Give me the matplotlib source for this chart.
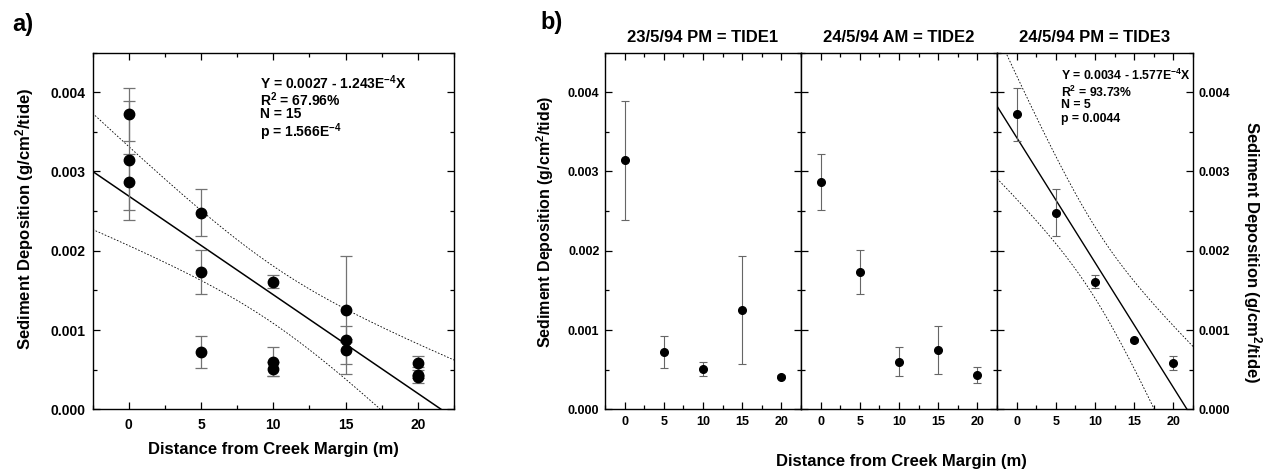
import numpy as np
import matplotlib
matplotlib.use("Agg")
import matplotlib.pyplot as plt
from matplotlib.ticker import MultipleLocator

plt.rcParams["font.family"] = ["Liberation Sans", "DejaVu Sans"]
plt.rcParams["font.weight"] = "bold"
plt.rcParams["mathtext.fontset"] = "custom"
plt.rcParams["mathtext.rm"] = "Liberation Sans:bold"
plt.rcParams["mathtext.bf"] = "Liberation Sans:bold"
plt.rcParams["mathtext.it"] = "Liberation Sans:italic:bold"

# distance from creek margin (m)
distance = [0, 5, 10, 15, 20]

# sediment deposition per tide (g/cm2/tide), mean and error
tide1 = [0.00314, 0.00072, 0.00051, 0.00125, 0.00041]
tide1_err = [0.00075, 0.00020, 0.00009, 0.00068, 0.00002]
tide2 = [0.00287, 0.00173, 0.00060, 0.00075, 0.00043]
tide2_err = [0.00035, 0.00028, 0.00018, 0.00030, 0.00010]
tide3 = [0.00372, 0.00248, 0.00161, 0.00087, 0.00058]
tide3_err = [0.00033, 0.00030, 0.00008, 0.00002, 0.00009]

tide_titles = ["23/5/94 PM = TIDE1", "24/5/94 AM = TIDE2", "24/5/94 PM = TIDE3"]

# t quantiles (two sided 95%) for the confidence bands
T_ALL = 2.160   # df = 13
T_TIDE3 = 3.182  # df = 3

YLABEL = "Sediment Deposition (g/cm$^{2}$/tide)"
XLABEL = "Distance from Creek Margin (m)"


def fit_with_band(x, y, t):
    x = np.asarray(x, float)
    y = np.asarray(y, float)
    slope, icpt = np.polyfit(x, y, 1)
    resid = y - (icpt + slope * x)
    s = np.sqrt(np.sum(resid ** 2) / (len(x) - 2))
    sxx = np.sum((x - x.mean()) ** 2)
    xs = np.linspace(-2.5, 22.5, 200)
    yfit = icpt + slope * xs
    half = t * s * np.sqrt(1.0 / len(x) + (xs - x.mean()) ** 2 / sxx)
    return xs, yfit, yfit - half, yfit + half


def style_axis(ax, size):
    ax.set_xlim(-2.5, 22.5)
    ax.set_ylim(0, 0.0045)
    ax.xaxis.set_major_locator(MultipleLocator(5))
    ax.xaxis.set_minor_locator(MultipleLocator(2.5))
    ax.yaxis.set_major_locator(MultipleLocator(0.001))
    ax.yaxis.set_minor_locator(MultipleLocator(0.0005))
    ax.tick_params(which="both", direction="in", top=True, right=True,
                   width=0.9, labelsize=size)
    ax.tick_params(which="major", length=5)
    ax.tick_params(which="minor", length=3)
    ax.yaxis.set_major_formatter(lambda v, p: f"{v:.3f}")
    for sp in ax.spines.values():
        sp.set_linewidth(1.0)


fig = plt.figure(figsize=(12.66, 4.71), dpi=100)

# ---- panel a: all tides pooled
axa = fig.add_axes([0.0731, 0.131, 0.2856, 0.7575])
style_axis(axa, 10)
axa.tick_params(axis="x", pad=6)
axa.tick_params(axis="y", pad=5)

all_x = distance * 3
all_y = tide1 + tide2 + tide3
all_err = tide1_err + tide2_err + tide3_err
axa.errorbar(all_x, all_y, yerr=all_err, fmt="o", color="black", ms=7.5,
             ecolor="0.45", elinewidth=0.9, capsize=4, capthick=0.9, zorder=3)
xs, yfit, lo, hi = fit_with_band(all_x, all_y, T_ALL)
axa.plot(xs, yfit, color="black", lw=1.1)
axa.plot(xs, lo, color="black", lw=0.6, ls=(0, (2, 2)))
axa.plot(xs, hi, color="black", lw=0.6, ls=(0, (2, 2)))

stats_a = ["Y = 0.0027 - 1.243E$^{-4}$X", "R$^{2}$ = 67.96%", "N = 15",
           "p = 1.566E$^{-4}$"]
for txt, yy in zip(stats_a, [0.916, 0.868, 0.827, 0.778]):
    axa.text(0.463, yy, txt, transform=axa.transAxes, fontsize=10,
             va="center", ha="left")

fig.text(0.0095, 0.947, "a)", fontsize=17, va="center", ha="left")
fig.text(0.019, 0.535, YLABEL, rotation=90, fontsize=12, va="center",
         ha="center")
fig.text(0.216, 0.037, XLABEL, fontsize=12, va="baseline", ha="center")

# ---- panel b: one axis per tide
means = [tide1, tide2, tide3]
errs = [tide1_err, tide2_err, tide3_err]
lefts = [605 / 1266, 801 / 1266, 997 / 1266]
axes_b = []
for i in range(3):
    ax = fig.add_axes([lefts[i], 0.131, 196 / 1266, 0.7575])
    style_axis(ax, 9)
    ax.tick_params(axis="x", pad=5)
    ax.tick_params(axis="y", pad=4)
    ax.errorbar(distance, means[i], yerr=errs[i], fmt="o", color="black",
                ms=5.5, ecolor="0.4", elinewidth=0.8, capsize=3.2,
                capthick=0.8, zorder=3)
    ax.text(0.5, 1.042, tide_titles[i], transform=ax.transAxes, fontsize=12,
            ha="center", va="center")
    if i > 0:
        ax.tick_params(axis="y", labelleft=False)
    axes_b.append(ax)

ax3 = axes_b[2]
ax3.tick_params(axis="y", labelleft=False, labelright=True)
xs, yfit, lo, hi = fit_with_band(distance, tide3, T_TIDE3)
ax3.plot(xs, yfit, color="black", lw=1.0)
ax3.plot(xs, lo, color="black", lw=0.6, ls=(0, (2, 2)))
ax3.plot(xs, hi, color="black", lw=0.6, ls=(0, (2, 2)))
stats_b = ["Y = 0.0034 - 1.577E$^{-4}$X", "R$^{2}$ = 93.73%", "N = 5",
           "p = 0.0044"]
for txt, yy in zip(stats_b, [0.936, 0.888, 0.852, 0.815]):
    ax3.text(0.327, yy, txt, transform=ax3.transAxes, fontsize=8.8,
             va="center", ha="left")

fig.text(0.4273, 0.952, "b)", fontsize=17, va="center", ha="left")
fig.text(0.431, 0.530, YLABEL, rotation=90, fontsize=11.5, va="center",
         ha="center")
fig.text(0.9893, 0.464, YLABEL, rotation=270, fontsize=12, va="center",
         ha="center")
fig.text(0.712, 0.0106, XLABEL, fontsize=12, va="baseline", ha="center")

fig.savefig("out.png", dpi=100)
